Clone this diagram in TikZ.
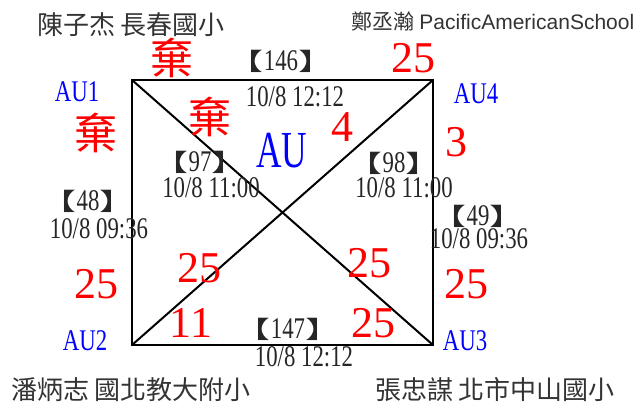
\documentclass[tikz,border=0pt]{standalone}
\usepackage{fontspec}
\setmainfont{Liberation Serif}
\newfontfamily\narrowfont[FakeStretch=0.76]{Liberation Serif}
\newfontfamily\wideAU[FakeStretch=0.68]{Liberation Serif}
\newfontfamily\cjkfont{Noto Sans CJK TC}
\newfontfamily\arialfont{Liberation Sans}
\newcommand{\bkt}[2]{\makebox[15pt][#1]{\scalebox{1.5}[1]{\cjkfont\fontsize{24}{24}\selectfont #2}}}
\newcommand{\gamenum}[1]{\bkt{r}{【}#1\bkt{l}{】}}

\begin{document}
\begin{tikzpicture}[
  x=1pt, y=-1pt,
  edge/.style={draw, line width=2pt},
  label/.style={inner sep=0pt, anchor=base},
  school/.style={inner sep=0pt, text=black!80, font=\cjkfont\fontsize{26}{26}\selectfont},
  corner/.style={label, text=blue, font=\narrowfont\fontsize{30}{30}\selectfont},
  game/.style={label, text=black!85, text height=20pt, text depth=1pt,
    font=\narrowfont\fontsize{30}{30}\selectfont},
  score/.style={label, text=red, font=\fontsize{44}{44}\selectfont},
  quit/.style={inner sep=0pt, text=red, font=\cjkfont\fontsize{43}{43}\selectfont}
]
\useasboundingbox (0,0) rectangle (643,403);

% corners of the square
\coordinate (c1) at (132,80);
\coordinate (c4) at (433,80);
\coordinate (c3) at (433,345);
\coordinate (c2) at (132,345);

\draw[edge] (c1) -- (c4) -- (c3) -- (c2) -- cycle;
\draw[edge] (c1) -- (c3);
\draw[edge] (c2) -- (c4);

% players
\node[school] (p1) at (131,25) {陳子杰 長春國小};
\node[school] (p4) at (493,21) {\fontsize{21}{21}\selectfont 鄭丞瀚 \arialfont PacificAmericanSchool};
\node[school] (p2) at (131,390) {潘炳志 國北教大附小};
\node[school] (p3) at (495,390) {張忠謀 北市中山國小};

% group and corner names
\node[corner] (au1) at (77,102) {AU1};
\node[corner] (au4) at (476,104) {AU4};
\node[corner] (au2) at (85,351) {AU2};
\node[corner] (au3) at (465,351) {AU3};
\node[label, text=blue, font=\wideAU\fontsize{52}{52}\selectfont] (au) at (282,168) {AU};

% games
\node[game] (g146) at (281,71) {\gamenum{146}};
\node[game] (d146) at (295,107) {10/8 12:12};
\node[game] (g97) at (200,172) {\gamenum{97}};
\node[game] (d97) at (211,198) {10/8 11:00};
\node[game] (g98) at (394,173) {\gamenum{98}};
\node[game] (d98) at (404,198) {10/8 11:00};
\node[game] (g48) at (88,211) {\gamenum{48}};
\node[game] (d48) at (99,239) {10/8 09:36};
\node[game] (g49) at (478,226) {\gamenum{49}};
\node[game] (d49) at (479,249) {10/8 09:36};
\node[game] (g147) at (288,339) {\gamenum{147}};
\node[game] (d147) at (304,367) {10/8 12:12};

% scores
\node[quit] (q1) at (172,58) {棄};
\node[quit] (q2) at (96,133) {棄};
\node[quit] (q3) at (210,117) {棄};
\node[score] (s1) at (413,73) {25};
\node[score] (s2) at (342,142) {4};
\node[score] (s3) at (456,157) {3};
\node[score] (s4) at (96,299) {25};
\node[score] (s5) at (199,283) {25};
\node[score] (s6) at (369,278) {25};
\node[score] (s7) at (466,299) {25};
\node[score] (s8) at (191,338) {11};
\node[score] (s9) at (373,338) {25};
\end{tikzpicture}
\end{document}
